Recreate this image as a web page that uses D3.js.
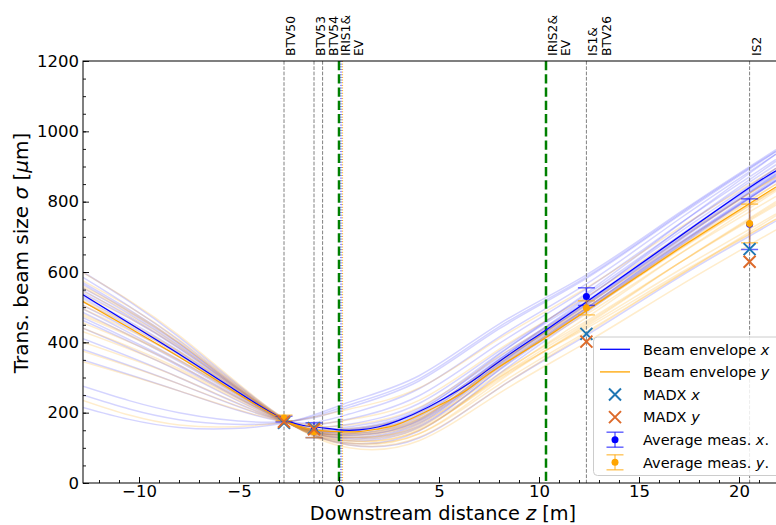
<!DOCTYPE html>
<html>
<head>
<meta charset="utf-8">
<script src="https://cdn.jsdelivr.net/npm/d3@7"></script>
<style>
  body { margin: 0; background: #fff; }
  svg { font-family: "DejaVu Sans", sans-serif; }
</style>
</head>
<body>
<div id="chart"></div>
<script>
// main envelopes
var envZ = [-12.8, -10.3, -7.8, -5.3, -2.8, -1.3, 0, 1, 2, 3, 4.5, 6, 7.05, 8, 9.55, 10.35, 12.37, 15, 17.5, 20.53, 21.85];
var envX = [535, 448, 360, 268, 182, 160, 151, 151, 160, 178, 217, 265, 305, 345, 405, 435, 515, 620, 720, 840, 888];
var envY = [516, 435, 352, 262, 180, 152, 146, 146, 154, 168, 207, 250, 292, 330, 385, 414, 490, 590, 685, 795, 842];

// faint fit ensemble, values at these z positions
var ensZ = [-12.8, -8, -2.8, 0.5, 4, 8, 12.37, 17, 21.85];
var ensX = [
  [600, 415, 186, 150, 205, 365, 540, 735, 935],
  [585, 405, 184, 140, 188, 350, 525, 720, 915],
  [565, 395, 182, 130, 172, 335, 510, 700, 895],
  [548, 385, 180, 120, 158, 322, 497, 688, 878],
  [525, 370, 179, 113, 148, 310, 485, 672, 860],
  [505, 358, 178, 125, 162, 320, 490, 675, 860],
  [485, 345, 178, 135, 177, 332, 497, 682, 866],
  [462, 332, 177, 145, 192, 345, 507, 692, 875],
  [440, 318, 176, 155, 207, 358, 518, 703, 887],
  [410, 300, 176, 167, 226, 375, 535, 720, 905],
  [380, 282, 176, 182, 248, 396, 552, 736, 920],
  [350, 262, 175, 196, 268, 415, 566, 750, 935],
  [275, 200, 174, 215, 290, 438, 582, 760, 942],
  [215, 158, 170, 230, 305, 452, 592, 768, 948],
  [570, 398, 183, 160, 212, 368, 528, 712, 895],
  [530, 375, 180, 140, 182, 338, 498, 680, 858],
  [250, 180, 172, 222, 296, 444, 586, 764, 944],
  [495, 350, 178, 108, 128, 270, 420, 585, 745],
  [555, 390, 181, 148, 196, 352, 515, 700, 885],
  [515, 365, 179, 152, 200, 350, 512, 696, 880],
  [470, 336, 177, 128, 168, 328, 492, 678, 862],
  [540, 382, 180, 136, 178, 340, 505, 692, 872]
];
var ensY = [
  [598, 420, 186, 140, 180, 340, 505, 690, 870],
  [575, 408, 184, 130, 165, 325, 490, 670, 850],
  [555, 398, 182, 120, 150, 305, 470, 650, 830],
  [535, 385, 181, 112, 140, 290, 450, 625, 800],
  [515, 372, 180, 108, 130, 270, 425, 590, 760],
  [495, 360, 179, 115, 140, 280, 430, 590, 750],
  [475, 348, 178, 125, 155, 295, 445, 605, 765],
  [455, 335, 177, 135, 170, 310, 460, 625, 790],
  [430, 320, 176, 145, 185, 330, 480, 650, 815],
  [400, 300, 176, 155, 200, 345, 495, 665, 835],
  [375, 282, 176, 165, 215, 360, 510, 680, 850],
  [345, 262, 175, 180, 235, 380, 530, 700, 870],
  [235, 165, 172, 210, 270, 410, 555, 725, 895],
  [560, 400, 183, 150, 190, 345, 500, 670, 840],
  [520, 375, 181, 100, 120, 255, 400, 560, 720],
  [480, 350, 179, 130, 160, 300, 440, 595, 750],
  [545, 390, 181, 138, 175, 330, 488, 665, 840],
  [505, 365, 180, 142, 182, 335, 490, 662, 835],
  [440, 325, 177, 120, 150, 300, 455, 625, 795]
];

// screens / measurements
var screenZ = [-2.75, -1.25, 12.37, 20.53];
var madxX = [171, 156, 424, 665];
var madxY = [174, 153, 402, 629];
var measX = [182, 150, 530, 736];
var errX = [8, 21, 25, 72];
var measY = [185, 146, 498, 738];
var errY = [8, 17, 20, 55];

// element positions along the line
var grayZ = [-2.75, -1.25, -0.82, 12.37, 20.53];
var greenZ = [0, 10.35];
var topLabels = [
  {z: -2.75, lines: ["BTV50"]},
  {z: -1.25, lines: ["BTV53"]},
  {z: -0.82, lines: ["BTV54"], shift: 4},
  {z: 0, lines: ["IRIS1&", "EV"]},
  {z: 10.35, lines: ["IRIS2&", "EV"]},
  {z: 12.37, lines: ["IS1&", "BTV26"]},
  {z: 20.53, lines: ["IS2"]}
];

var svgWidth = 776, svgHeight = 525;
var margin = {top: 61, right: 0, bottom: 42, left: 83};
var chart_width = svgWidth - margin.left - margin.right;
var chart_height = svgHeight - margin.top - margin.bottom;

var svg = d3.select("#chart").append("svg")
    .attr("width", svgWidth).attr("height", svgHeight);
svg.append("defs").append("clipPath").attr("id", "clip")
    .append("rect").attr("width", chart_width).attr("height", chart_height);

var g = svg.append("g").attr("transform", `translate(${margin.left}, ${margin.top})`);

var xScale = d3.scaleLinear().domain([-12.8, 21.85]).range([0, chart_width]);
var yScale = d3.scaleLinear().domain([0, 1200]).range([chart_height, 0]);

var plot = g.append("g").attr("clip-path", "url(#clip)");

function lineOf(zs) {
    return d3.line()
        .x((d, i) => xScale(zs[i]))
        .y(d => yScale(d))
        .curve(d3.curveNatural);
}
var ensLine = lineOf(ensZ);
var envLine = lineOf(envZ);

// ensemble
ensX.forEach(function(row) {
    plot.append("path").attr("d", ensLine(row))
        .attr("fill", "none").attr("stroke", "#0000ff")
        .attr("stroke-opacity", 0.17).attr("stroke-width", 1.5);
});
ensY.forEach(function(row) {
    plot.append("path").attr("d", ensLine(row))
        .attr("fill", "none").attr("stroke", "#ffa500")
        .attr("stroke-opacity", 0.2).attr("stroke-width", 1.5);
});

// vertical element lines
grayZ.forEach(function(z) {
    plot.append("line").attr("x1", xScale(z)).attr("x2", xScale(z))
        .attr("y1", 0).attr("y2", chart_height)
        .attr("stroke", "#808080").attr("stroke-width", 1)
        .attr("stroke-dasharray", "3.7,1.6");
});
plot.append("line").attr("x1", xScale(0.1)).attr("x2", xScale(0.1))
    .attr("y1", 0).attr("y2", chart_height)
    .attr("stroke", "#0000ff").attr("stroke-width", 1).attr("stroke-dasharray", "1,1.65");
plot.append("line").attr("x1", xScale(0.18)).attr("x2", xScale(0.18))
    .attr("y1", 0).attr("y2", chart_height)
    .attr("stroke", "#ffa500").attr("stroke-width", 1).attr("stroke-dasharray", "1,1.65");
greenZ.forEach(function(z) {
    plot.append("line").attr("x1", xScale(z)).attr("x2", xScale(z))
        .attr("y1", 0).attr("y2", chart_height)
        .attr("stroke", "#008000").attr("stroke-width", 2.5)
        .attr("stroke-dasharray", "9.25,4");
});

// main envelopes
plot.append("path").attr("d", envLine(envX))
    .attr("fill", "none").attr("stroke", "#0000ff").attr("stroke-width", 1.2);
plot.append("path").attr("d", envLine(envY))
    .attr("fill", "none").attr("stroke", "#ffa500").attr("stroke-width", 1.2);

// markers
function drawX(sel, cx, cy, color) {
    var s = 6;
    sel.append("path")
        .attr("d", `M${cx - s},${cy - s}L${cx + s},${cy + s}M${cx - s},${cy + s}L${cx + s},${cy - s}`)
        .attr("stroke", color).attr("stroke-width", 2).attr("fill", "none");
}
function drawErr(sel, cx, cy, lo, hi, color) {
    var cap = 8.5;
    var eb = sel.append("g").attr("stroke", color).attr("stroke-width", 1.5).attr("stroke-opacity", 0.6);
    eb.append("line").attr("x1", cx).attr("x2", cx).attr("y1", lo).attr("y2", hi);
    eb.append("line").attr("x1", cx - cap).attr("x2", cx + cap).attr("y1", lo).attr("y2", lo);
    eb.append("line").attr("x1", cx - cap).attr("x2", cx + cap).attr("y1", hi).attr("y2", hi);
    sel.append("circle").attr("cx", cx).attr("cy", cy).attr("r", 3.5).attr("fill", color);
}
var marks = g.append("g");
screenZ.forEach(function(z, i) {
    drawErr(marks, xScale(z), yScale(measX[i]), yScale(measX[i] - errX[i]), yScale(measX[i] + errX[i]), "#0000ff");
});
screenZ.forEach(function(z, i) {
    drawErr(marks, xScale(z), yScale(measY[i]), yScale(measY[i] - errY[i]), yScale(measY[i] + errY[i]), "#ffa500");
});
screenZ.forEach(function(z, i) {
    drawX(marks, xScale(z), yScale(madxX[i]), "#1f77b4");
    drawX(marks, xScale(z), yScale(madxY[i]), "#dd6a2a");
});

// axes
var bottomAxis = d3.axisBottom(xScale).tickValues([-10, -5, 0, 5, 10, 15, 20])
    .tickSize(-6).tickPadding(2.5);
var bottomMinor = d3.axisBottom(xScale).tickValues(d3.range(-12, 22, 1))
    .tickSize(-3).tickFormat("");
var leftAxis = d3.axisLeft(yScale).tickValues(d3.range(0, 1201, 200))
    .tickSize(-6).tickPadding(4).tickFormat(d3.format("d"));
var leftMinor = d3.axisLeft(yScale).tickValues(d3.range(0, 1201, 50))
    .tickSize(-3).tickFormat("");

[bottomMinor, bottomAxis].forEach(function(ax) {
    g.append("g").attr("class", "axis").attr("transform", `translate(0, ${chart_height})`).call(ax);
});
[leftMinor, leftAxis].forEach(function(ax) {
    g.append("g").attr("class", "axis").call(ax);
});
g.selectAll(".axis .domain").remove();
g.selectAll(".axis text").attr("font-size", 16.5).attr("font-family", "DejaVu Sans").attr("fill", "#000");
g.selectAll(".axis line").attr("stroke", "#000").attr("stroke-width", 0.9);

// frame
g.append("rect").attr("width", chart_width + 2).attr("height", chart_height)
    .attr("fill", "none").attr("stroke", "#000").attr("stroke-width", 1);

// axis labels
var xl = svg.append("text").attr("x", margin.left + xScale(0) + 104).attr("y", 519.5)
    .attr("text-anchor", "middle").attr("font-size", 19.3);
xl.append("tspan").text("Downstream distance ");
xl.append("tspan").attr("font-style", "italic").text("z");
xl.append("tspan").text(" [m]");

var yl = svg.append("text").attr("transform", "translate(28, 253) rotate(-90)")
    .attr("text-anchor", "middle").attr("font-size", 20);
yl.append("tspan").text("Trans. beam size ");
yl.append("tspan").attr("font-style", "italic").text("σ");
yl.append("tspan").text(" [");
yl.append("tspan").attr("font-style", "italic").text("μ");
yl.append("tspan").text("m]");

// top element labels
topLabels.forEach(function(lab) {
    lab.lines.forEach(function(t, j) {
        var cx = margin.left + xScale(lab.z) + 6.5 + (lab.shift || 0) + j * 13.5;
        svg.append("text")
            .attr("transform", `translate(${cx}, 56) rotate(-90)`)
            .attr("dy", "0.36em").attr("font-size", 12.3).text(t);
    });
});

// legend
var leg = svg.append("g");
leg.append("rect").attr("x", 593.5).attr("y", 337).attr("width", 200).attr("height", 138.5)
    .attr("rx", 4).attr("fill", "#fff").attr("fill-opacity", 0.85)
    .attr("stroke", "#cccccc").attr("stroke-width", 1);
var legItems = [
    {label: ["Beam envelope ", "x", ""], type: "line", color: "#0000ff"},
    {label: ["Beam envelope ", "y", ""], type: "line", color: "#ffa500"},
    {label: ["MADX ", "x", ""], type: "x", color: "#1f77b4"},
    {label: ["MADX ", "y", ""], type: "x", color: "#dd6a2a"},
    {label: ["Average meas. ", "x", "."], type: "err", color: "#0000ff"},
    {label: ["Average meas. ", "y", "."], type: "err", color: "#ffa500"}
];
legItems.forEach(function(it, i) {
    var cy = 349.3 + i * 22.6;
    if (it.type === "line") {
        leg.append("line").attr("x1", 600).attr("x2", 630).attr("y1", cy).attr("y2", cy)
            .attr("stroke", it.color).attr("stroke-width", 1.3);
    } else if (it.type === "x") {
        drawX(leg, 615, cy, it.color);
    } else {
        drawErr(leg, 615, cy, cy + 7.5, cy - 7.5, it.color);
    }
    var t = leg.append("text").attr("x", 643).attr("y", cy).attr("dy", "0.36em").attr("font-size", 14.5);
    t.append("tspan").text(it.label[0]);
    t.append("tspan").attr("font-style", "italic").text(it.label[1]);
    t.append("tspan").text(it.label[2]);
});
</script>
</body>
</html>
